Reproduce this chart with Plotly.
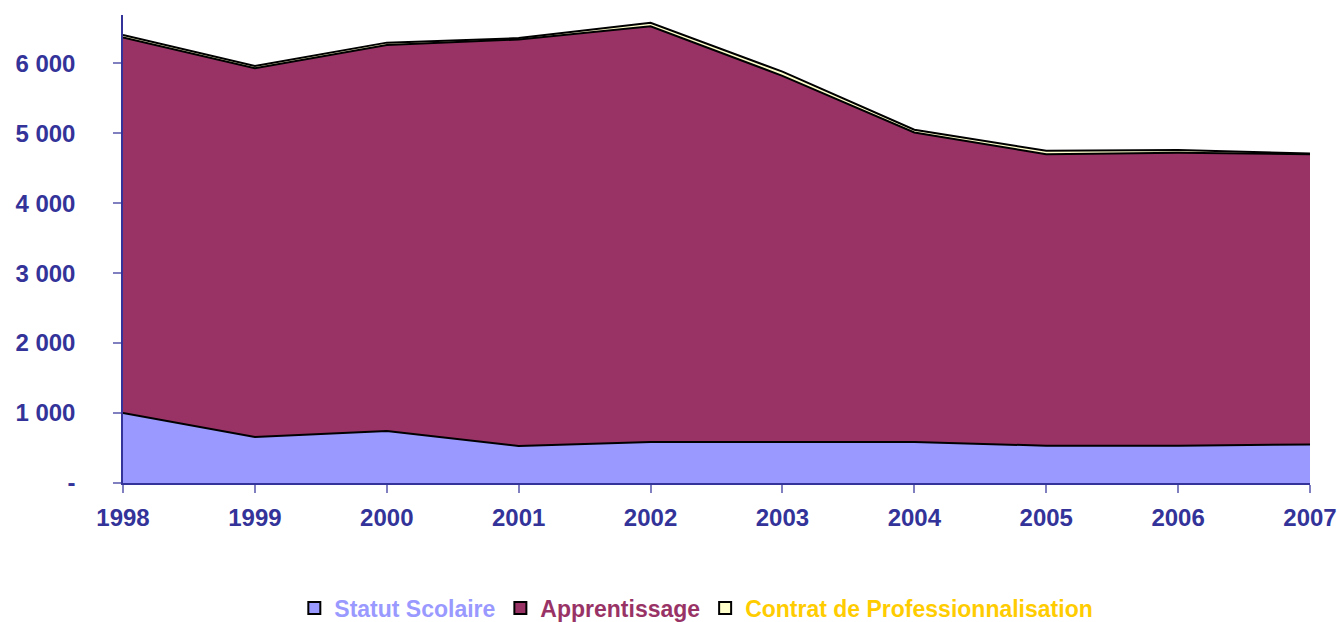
import plotly.graph_objects as go

years = [1998, 1999, 2000, 2001, 2002, 2003, 2004, 2005, 2006, 2007]
statut_scolaire = [1000, 657, 743, 529, 586, 586, 586, 533, 533, 552]
apprentissage = [5370, 5273, 5517, 5811, 5944, 5234, 4424, 4167, 4187, 4148]
contrat_pro = [35, 30, 35, 20, 50, 60, 40, 50, 40, 10]

y_tickvals = [0, 1000, 2000, 3000, 4000, 5000, 6000]
y_ticktext = ["-", "1 000", "2 000", "3 000", "4 000", "5 000", "6 000"]

series = [
    ("Statut Scolaire", statut_scolaire, "#9999FF", "#9999FF"),
    ("Apprentissage", apprentissage, "#993366", "#993366"),
    ("Contrat de Professionnalisation", contrat_pro, "#FFFFCC", "#FFCC00"),
]

fig = go.Figure()
for name, vals, fillc, textc in series:
    fig.add_trace(go.Scatter(
        x=years, y=vals, stackgroup="one", mode="lines",
        line=dict(color="black", width=2),
        fillcolor=fillc, name=name, showlegend=False,
        hoverinfo="x+y",
    ))
# legend entries (square swatches with black outline)
for name, vals, fillc, textc in series:
    fig.add_trace(go.Scatter(
        x=[None], y=[None], mode="markers",
        marker=dict(symbol="square", size=14, color=fillc, line=dict(color="black", width=2)),
        name=f"<span style='color:{textc}'>{name}</span>",
        showlegend=True,
    ))

font_family = "Arial, Liberation Sans, sans-serif"
fig.update_layout(
    width=1337, height=622,
    margin=dict(l=123, r=27, t=15, b=139, autoexpand=False),
    paper_bgcolor="white", plot_bgcolor="white",
    font=dict(family=font_family, size=24, color="#333399"),
    showlegend=True,
    legend=dict(orientation="h", x=0.483, xanchor="center", y=-0.267, yanchor="middle",
                font=dict(size=23, family=font_family, weight="bold"), traceorder="normal",
                itemwidth=30, itemsizing="constant"),
    xaxis=dict(
        range=[1998, 2007], tickvals=years, ticktext=[str(y) for y in years],
        showgrid=False, zeroline=False, showline=True, linecolor="#333399", linewidth=2,
        ticks="outside", ticklen=8, tickcolor="#8080C0", tickwidth=2,
        tickfont=dict(size=24, family=font_family, color="#333399", weight="bold"),
        ticklabelstandoff=4, automargin=False,
    ),
    yaxis=dict(
        range=[0, 6690], tickvals=y_tickvals, ticktext=y_ticktext,
        showgrid=False, zeroline=False, showline=True, linecolor="#333399", linewidth=1.5,
        ticks="outside", ticklen=8, tickcolor="#8080C0", tickwidth=1.5,
        tickfont=dict(size=24, family=font_family, color="#333399", weight="bold"),
        ticklabelstandoff=33, automargin=False,
    ),
)
fig.write_html(
    "out.html",
    config={"displayModeBar": False},
    post_script="document.body.style.margin='0';document.documentElement.style.overflow='hidden';",
)
